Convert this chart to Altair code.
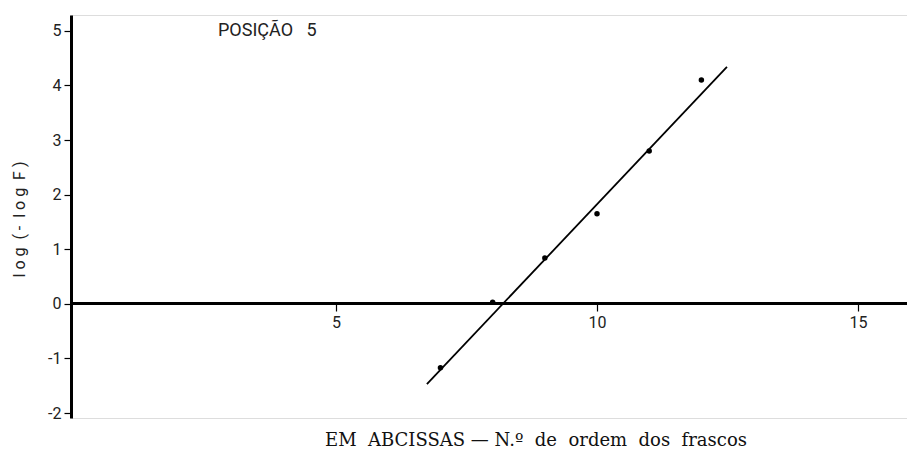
import altair as alt
import pandas as pd

# Observed points: flask order number vs log(-log F)
flask_no = [7, 8, 9, 10, 11, 12]
loglog_f = [-1.17, 0.03, 0.84, 1.65, 2.80, 4.10]

# Fitted straight line (end points)
fit_x = [6.74, 12.49]
fit_y = [-1.47, 4.34]

y_ticks = [-2, -1, 0, 1, 2, 3, 4, 5]
x_ticks = [5, 10, 15]

NB = "\u00a0"  # non-breaking space keeps the wide letter spacing in SVG

pts = pd.DataFrame({"x": flask_no, "y": loglog_f})
fit = pd.DataFrame({"x": fit_x, "y": fit_y})

LABEL_FONT = "Roboto"

xscale = alt.Scale(domain=[-0.08, 15.94], nice=False, zero=False)
yscale = alt.Scale(domain=[-2.09, 5.29], nice=False, zero=False)

y_title = NB.join(list("log")) + NB * 2 + "(" + NB + "-" + NB * 2 + NB.join(list("log")) + NB * 2 + "F" + NB + ")"

x_axis = alt.Axis(
    values=x_ticks, orient="bottom", offset=-115, title=None,
    domainColor="black", domainWidth=3, tickColor="black", tickWidth=1.2,
    tickSize=8, labelFont=LABEL_FONT, labelFontSize=16, labelColor="#222",
    labelPadding=3, grid=False, labelFlush=False,
)
y_axis = alt.Axis(
    values=y_ticks, title=y_title,
    titleFont=LABEL_FONT, titleFontSize=16, titleFontWeight="normal",
    titleColor="#222", titleX=-44, titleY=204, titleAngle=270,
    domainColor="black", domainWidth=3, tickColor="black", tickWidth=1.2,
    tickSize=7, labelFont=LABEL_FONT, labelFontSize=16, labelColor="#222",
    labelPadding=3, grid=False,
    labelExpr="datum.value < 0 ? '-' + toString(-datum.value) : toString(datum.value)",
)

line = alt.Chart(fit).mark_line(color="black", strokeWidth=1.8).encode(
    x=alt.X("x:Q", scale=xscale, axis=x_axis),
    y=alt.Y("y:Q", scale=yscale, axis=y_axis),
)

dots = alt.Chart(pts).mark_circle(color="black", opacity=1, size=30).encode(
    x=alt.X("x:Q", scale=xscale),
    y=alt.Y("y:Q", scale=yscale),
)

heading = alt.Chart(pd.DataFrame({"t": ["POSIÇÃO" + NB * 3 + "5"]})).mark_text(
    align="left", baseline="top", font=LABEL_FONT, fontSize=18,
    color="#222",
).encode(x=alt.value(147), y=alt.value(7), text="t:N")

caption_text = (
    "EM" + NB * 2 + "ABCISSAS" + NB + "—" + NB + "N.º" + NB * 2 + "de" + NB * 2
    + "ordem" + NB * 2 + "dos" + NB * 2 + "frascos"
)
caption = alt.Chart(pd.DataFrame({"t": [caption_text]})).mark_text(
    align="center", baseline="alphabetic", font="DejaVu Serif", fontSize=18,
    color="#111",
).encode(x=alt.value(465), y=alt.value(431), text="t:N")

chart = (
    alt.layer(line, dots, heading, caption)
    .properties(
        width=836, height=403,
        autosize=alt.AutoSizeParams(type="none"),
        padding={"left": 71, "top": 15, "right": 0, "bottom": 37},
    )
    .configure_view(stroke=None)
    .configure(background="white")
)

chart.save("out.html", embed_options={"renderer": "svg", "actions": False})
